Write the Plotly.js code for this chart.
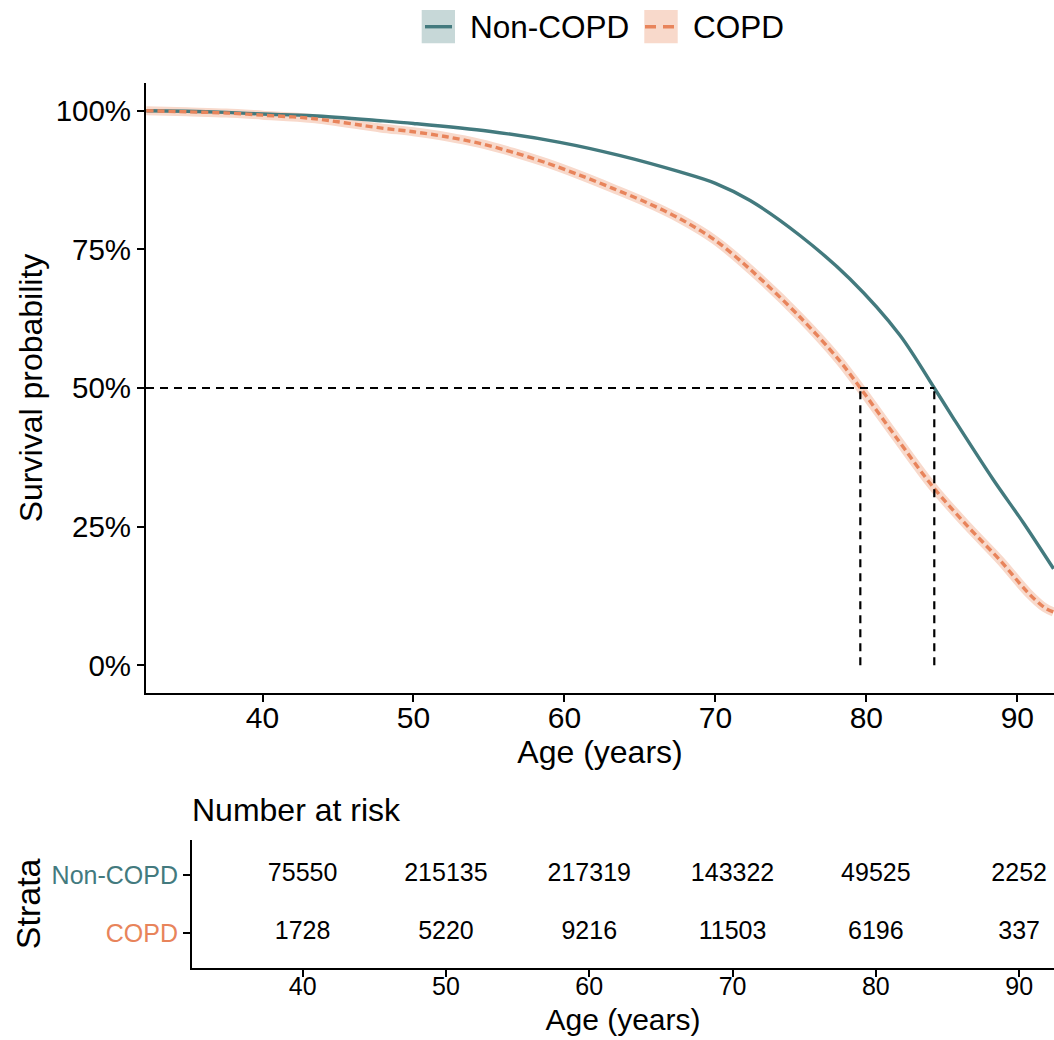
<!DOCTYPE html>
<html><head><meta charset="utf-8">
<script src="https://cdn.plot.ly/plotly-3.0.1.min.js"></script>
<style>html,body{margin:0;padding:0;background:#fff;overflow:hidden}</style>
</head><body><div id="chart" style="width:1054px;height:1040px"></div>
<script>
// ---- data ----
const strata = ['Non-COPD', 'COPD'];
const ageNonCOPD  = [32.3, 35, 37.6, 40, 43.3, 47.8, 50, 55, 59.7, 63.7, 67.6, 70, 72.3, 75.6, 78.9, 82.2, 84.5, 85.8, 88.4, 90.4, 92.4];
const survNonCOPD = [100, 99.9, 99.7, 99.4, 99.1, 98.2, 97.7, 96.3, 94.3, 91.9, 89.0, 86.9, 83.8, 77.5, 69.7, 59.6, 50, 44.4, 33.5, 25.7, 17.4];
const ageCOPD  = [32.3, 35, 37.6, 40, 43.3, 47.8, 50, 52.2, 54.4, 56.6, 58.8, 61.0, 63.2, 65.4, 67.6, 69.9, 72.3, 75.6, 78.2, 79.6, 82, 84.4, 86.7, 88.9, 90.7, 91.8, 92.4];
const survCOPD = [100, 99.8, 99.6, 99.2, 98.6, 96.9, 96.2, 95.3, 94.1, 92.5, 90.6, 88.4, 86.0, 83.5, 80.6, 76.8, 71.4, 62.8, 55.0, 50, 41.0, 32.2, 25.1, 18.8, 13.1, 10.4, 9.6];
const medianAge = [79.6, 84.5];
const medianSurv = 50;
const riskTimes = [40, 50, 60, 70, 80, 90];
const riskNonCOPD = [75550, 215135, 217319, 143322, 49525, 2252];
const riskCOPD = [1728, 5220, 9216, 11503, 6196, 337];
const xTicks = [40, 50, 60, 70, 80, 90];
const yTicks = [0, 25, 50, 75, 100];
const yTickLabels = ['0%', '25%', '50%', '75%', '100%'];
const xRange = [32.28, 92.43];

// ---- style ----
const W = 1054, H = 1040;
const TEAL = '#437A7E', ORANGE = '#E8845B';
const TEAL_FILL = '#C7D8D8', ORANGE_FILL = '#F8D9CB';
const FONT = 'Liberation Sans, Arial, Helvetica, sans-serif';
const px = v => v / W;
const py = v => 1 - v / H;

const traces = [
  {x: ageCOPD, y: survCOPD, mode: 'lines', line: {color: ORANGE_FILL, width: 9, shape: 'spline', smoothing: 0.9},
   hoverinfo: 'skip', showlegend: false, xaxis: 'x', yaxis: 'y'},
  {x: ageNonCOPD, y: survNonCOPD, name: strata[0], mode: 'lines',
   line: {color: TEAL, width: 3.4, shape: 'spline', smoothing: 0.9}, showlegend: false, xaxis: 'x', yaxis: 'y'},
  {x: ageCOPD, y: survCOPD, name: strata[1], mode: 'lines',
   line: {color: ORANGE, width: 3.4, dash: '7px,4px', shape: 'spline', smoothing: 0.9}, showlegend: false, xaxis: 'x', yaxis: 'y'},
  {x: riskTimes, y: riskNonCOPD.map(() => 1), text: riskNonCOPD.map(String), mode: 'text',
   textfont: {family: FONT, size: 25, color: '#000'}, showlegend: false, hoverinfo: 'skip', xaxis: 'x2', yaxis: 'y2', cliponaxis: false},
  {x: riskTimes, y: riskCOPD.map(() => 0), text: riskCOPD.map(String), mode: 'text',
   textfont: {family: FONT, size: 25, color: '#000'}, showlegend: false, hoverinfo: 'skip', xaxis: 'x2', yaxis: 'y2', cliponaxis: false}
];

const shapes = [
  {type: 'line', xref: 'x', yref: 'y', x0: xRange[0], x1: Math.max(...medianAge), y0: medianSurv, y1: medianSurv,
   line: {color: '#000', width: 2.2, dash: '8px,6px'}},
  ...medianAge.map(a => ({type: 'line', xref: 'x', yref: 'y', x0: a, x1: a, y0: 0, y1: medianSurv,
   line: {color: '#000', width: 2.2, dash: '8px,6px'}})),
  // legend keys
  {type: 'rect', xref: 'paper', yref: 'paper', x0: px(421.7), x1: px(455), y0: py(43.3), y1: py(10), fillcolor: TEAL_FILL, line: {width: 0}},
  {type: 'line', xref: 'paper', yref: 'paper', x0: px(425), x1: px(452), y0: py(26.7), y1: py(26.7), line: {color: TEAL, width: 3.4}},
  {type: 'rect', xref: 'paper', yref: 'paper', x0: px(644.3), x1: px(677.7), y0: py(43.3), y1: py(10), fillcolor: ORANGE_FILL, line: {width: 0}},
  {type: 'line', xref: 'paper', yref: 'paper', x0: px(645), x1: px(675), y0: py(26.7), y1: py(26.7), line: {color: ORANGE, width: 3.4, dash: '11px,7px'}}
];

const annotations = [
  {xref: 'paper', yref: 'paper', x: px(468), y: py(27), xanchor: 'left', yanchor: 'middle', showarrow: false,
   text: strata[0], font: {family: FONT, size: 31.5, color: '#000'}},
  {xref: 'paper', yref: 'paper', x: px(691), y: py(27), xanchor: 'left', yanchor: 'middle', showarrow: false,
   text: strata[1], font: {family: FONT, size: 31.5, color: '#000'}},
  {xref: 'paper', yref: 'paper', x: px(190), y: py(810), xanchor: 'left', yanchor: 'middle', showarrow: false,
   text: 'Number at risk', font: {family: FONT, size: 32, color: '#000'}}
];

const axisCommon = {
  showline: true, linecolor: '#000', linewidth: 2, ticks: 'outside', ticklen: 7, tickwidth: 2, tickcolor: '#000',
  showgrid: false, zeroline: false
};

const layout = {
  width: W, height: H, margin: {l: 0, r: 0, t: 0, b: 0},
  paper_bgcolor: '#fff', plot_bgcolor: '#fff', showlegend: false,
  font: {family: FONT, color: '#000'},
  xaxis: Object.assign({}, axisCommon, {
    domain: [px(146), 1], range: xRange, tickvals: xTicks, anchor: 'y', ticklabelstandoff: -10,
    tickfont: {family: FONT, size: 30, color: '#000'},
    title: {text: 'Age (years)', font: {family: FONT, size: 32, color: '#000'}, standoff: 7}
  }),
  yaxis: Object.assign({}, axisCommon, {
    domain: [py(693), py(83)], range: [-5, 105], tickvals: yTicks, ticktext: yTickLabels, anchor: 'x',
    tickfont: {family: FONT, size: 29.5, color: '#000'},
    title: {text: 'Survival probability', font: {family: FONT, size: 32, color: '#000'}, standoff: 3}
  }),
  xaxis2: Object.assign({}, axisCommon, {
    domain: [px(192), 1], range: xRange, tickvals: riskTimes, anchor: 'y2', ticklabelstandoff: -12,
    tickfont: {family: FONT, size: 25, color: '#000'},
    title: {text: 'Age (years)', font: {family: FONT, size: 30, color: '#000'}, standoff: 10}
  }),
  yaxis2: Object.assign({}, axisCommon, {
    domain: [py(967.7), py(840)], range: [-0.6, 1.6], tickvals: [0, 1], anchor: 'x2',
    ticktext: ['<span style="color:' + ORANGE + '">' + strata[1] + '</span>', '<span style="color:' + TEAL + '">' + strata[0] + '</span>'],
    tickfont: {family: FONT, size: 25, color: '#000'},
    title: {text: 'Strata', font: {family: FONT, size: 34, color: '#000'}, standoff: 1}
  }),
  shapes: shapes,
  annotations: annotations
};

Plotly.newPlot('chart', traces, layout, {staticPlot: true, displayModeBar: false});
</script>
</body></html>
